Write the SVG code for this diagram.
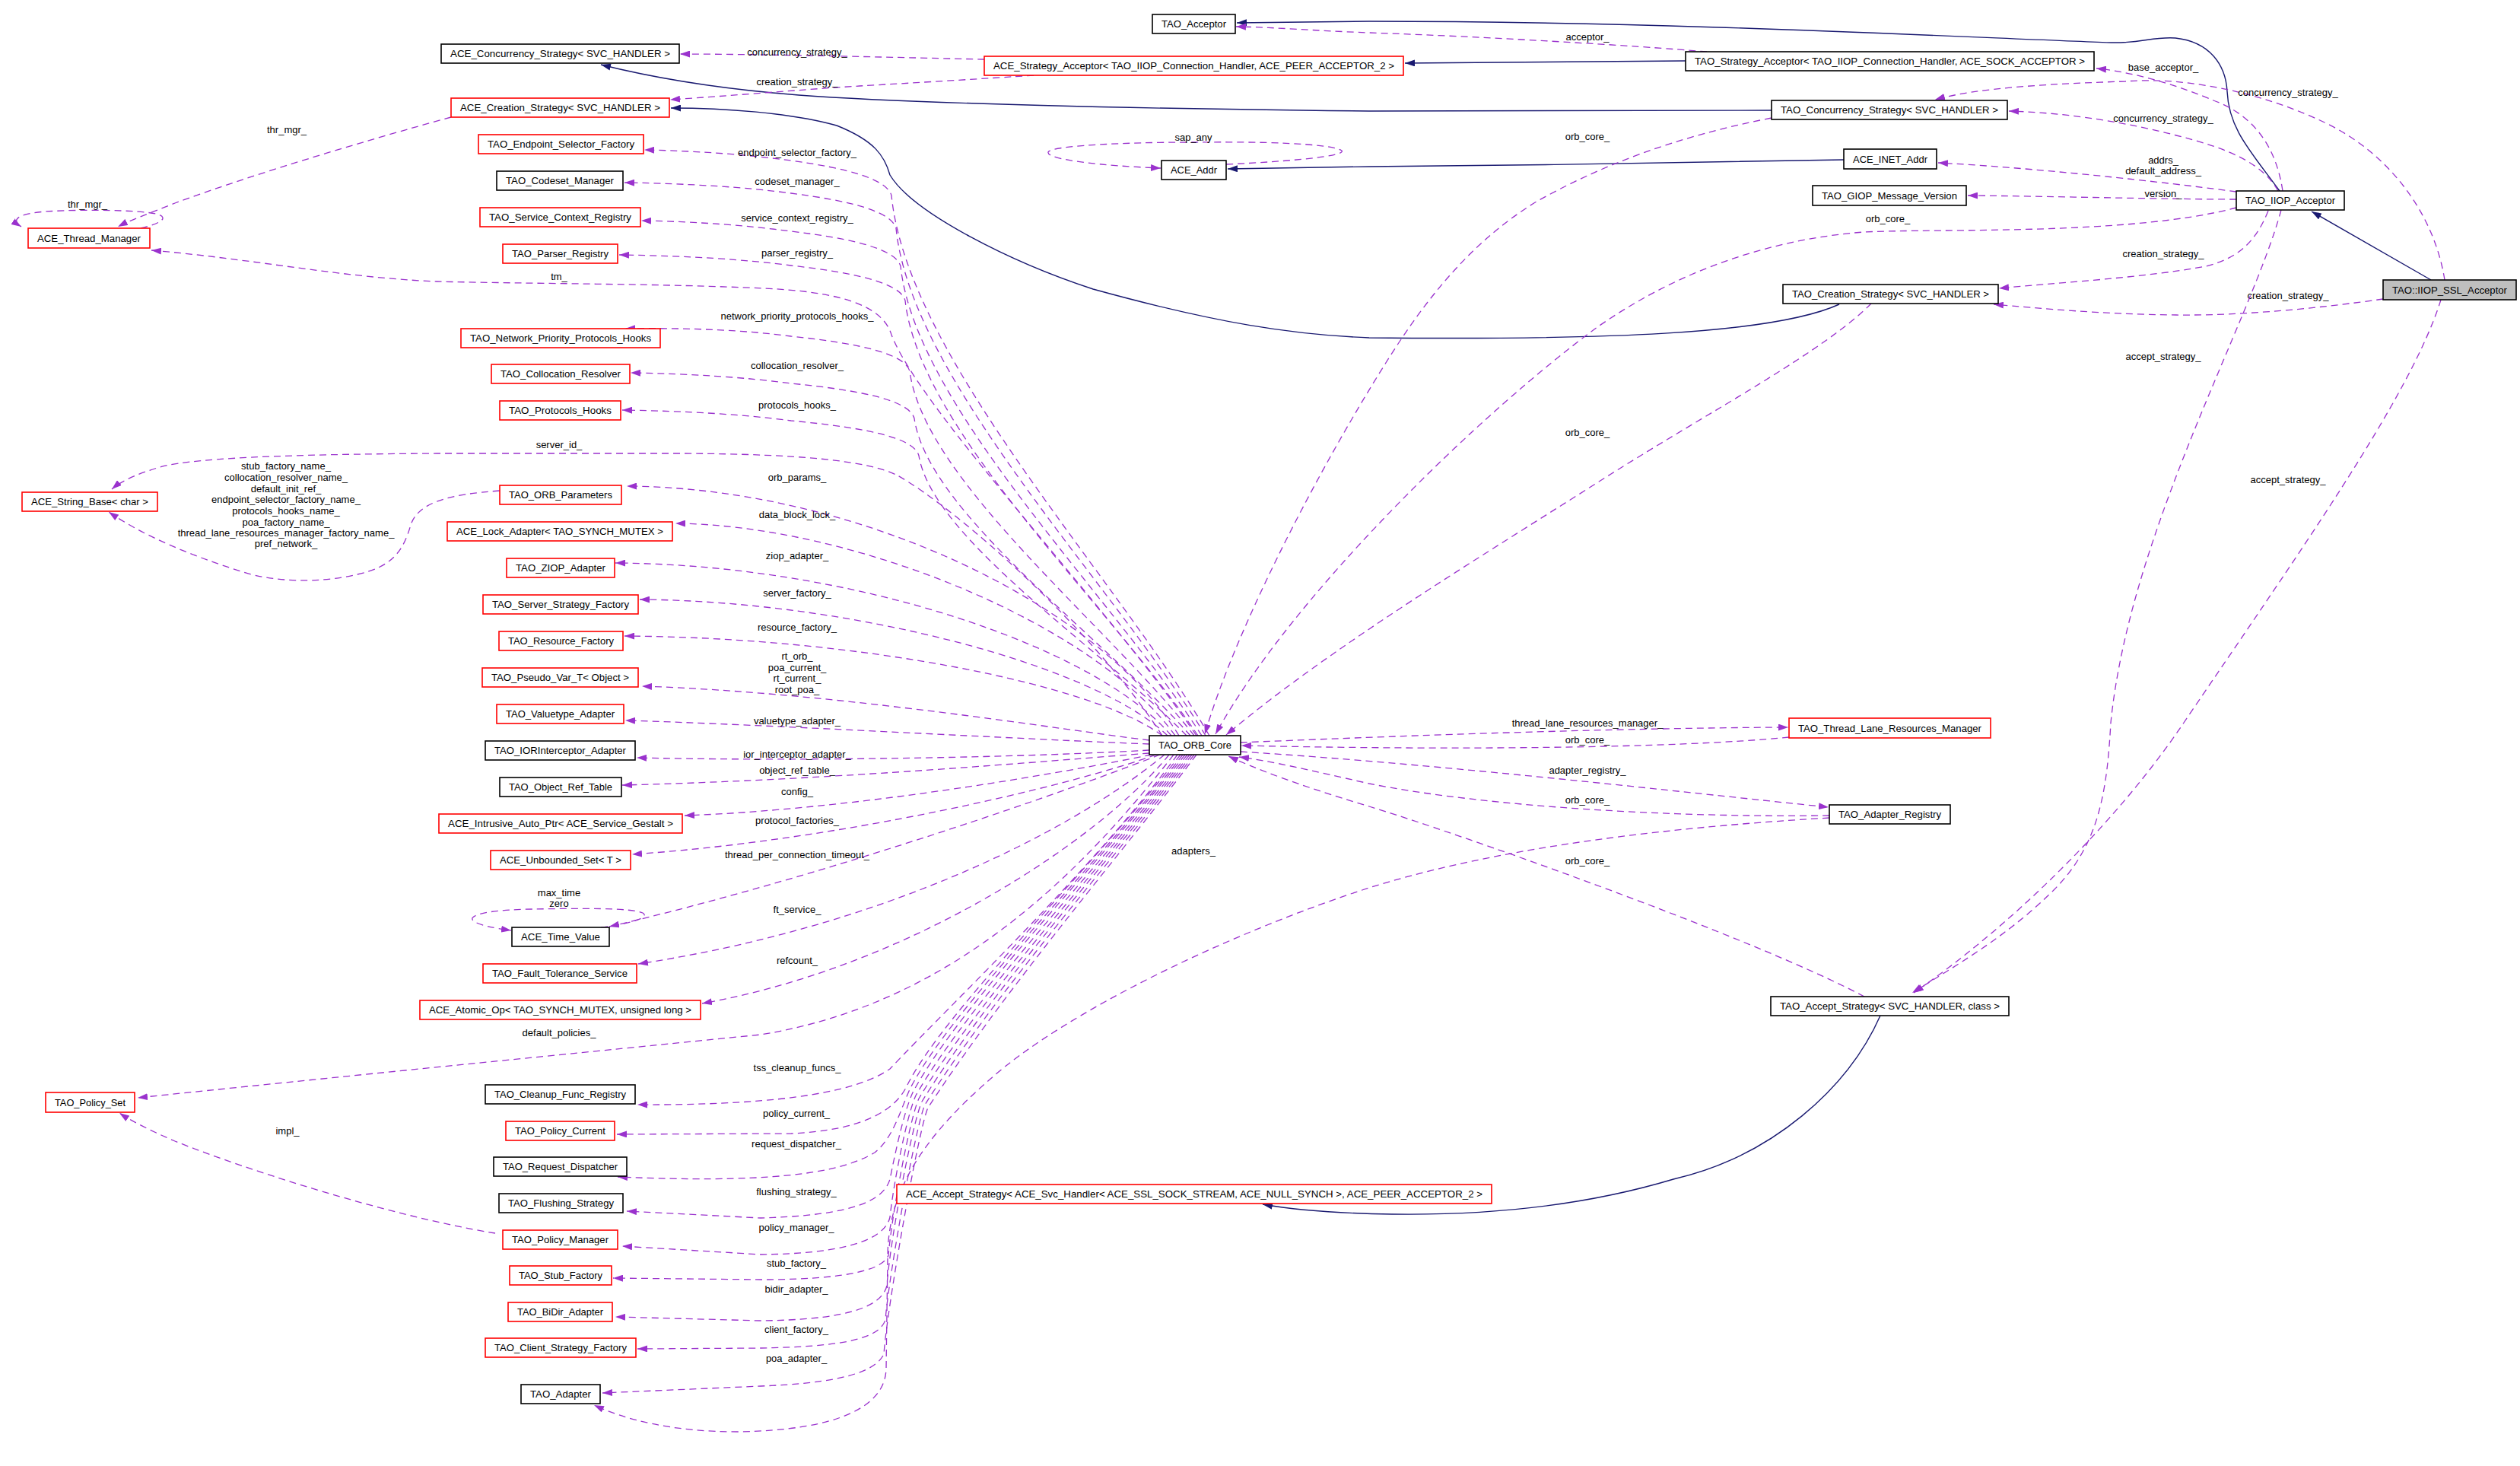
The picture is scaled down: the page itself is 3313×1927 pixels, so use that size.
<svg xmlns="http://www.w3.org/2000/svg" width="3313" height="1927" viewBox="0 0 3313 1927">
<style>
.bx{fill:#ffffff;stroke-width:1.6}
.r{stroke:#ff0000}
.k{stroke:#000000}
.g{fill:#bfbfbf;stroke:#000000;stroke-width:1.6}
.t{font-family:"Liberation Sans",Arial,sans-serif;font-size:13px;fill:#000000;text-anchor:middle}
.l{font-family:"Liberation Sans",Arial,sans-serif;font-size:13px;fill:#000000;text-anchor:middle}
.e{fill:none;stroke:#9a32cd;stroke-width:1.3;stroke-dasharray:9,6;marker-end:url(#ap)}
.i{fill:none;stroke:#191970;stroke-width:1.4;marker-end:url(#ab)}
</style>
<defs>
<marker id="ap" viewBox="0 0 13 9" refX="13" refY="4.5" markerWidth="13" markerHeight="9" markerUnits="userSpaceOnUse" orient="auto"><path d="M0,0L13,4.5L0,9z" fill="#9a32cd" stroke="none"/></marker>
<marker id="ab" viewBox="0 0 13 9" refX="13" refY="4.5" markerWidth="13" markerHeight="9" markerUnits="userSpaceOnUse" orient="auto"><path d="M0,0L13,4.5L0,9z" fill="#191970" stroke="none"/></marker>
</defs>
<rect width="3313" height="1927" fill="#ffffff"/>

<g id="connectors">
<!-- inheritance -->
<path class="i" d="M3196,368 L3039,278"/>
<path class="i" d="M2997,251 C2960,200 2930,170 2928,120 C2926,85 2905,55 2860,50 C2830,48 2815,57 2775,56 C2600,50 2200,28 1800,28 L1626,30"/>
<path class="i" d="M2216,80 L1847,83"/>
<path class="i" d="M2329,145 L1800,146 C1500,143 1200,136 1050,125 C960,118 870,105 790,85"/>
<path class="i" d="M2418,400 C2330,440 2100,447 1800,444 C1700,440 1600,425 1437,380 C1330,345 1200,280 1170,230 C1163,205 1150,185 1100,165 C1040,148 950,142 882,142"/>
<path class="i" d="M2424,210 C2300,212 2000,218 1800,219 L1614,222"/>
<path class="i" d="M2472,1335 C2430,1430 2330,1520 2200,1550 C2100,1580 1980,1598 1830,1596 C1760,1595 1700,1590 1660,1583"/>

<!-- SSL acceptor usage -->
<path class="e" d="M3214,368 C3200,280 3140,200 3054,160 C2980,125 2880,100 2794,107 C2700,110 2600,115 2544,131"/>
<text class="l" x="3008" y="125.5">concurrency_strategy_</text>
<path class="e" d="M3133,393 C3050,405 2950,415 2861,414 C2760,413 2680,405 2621,400"/>
<text class="l" x="3008" y="392.5">creation_strategy_</text>
<path class="e" d="M3209,394 C3170,520 3020,730 2871,950 C2780,1085 2640,1220 2516,1305"/>
<text class="l" x="3008" y="634.5">accept_strategy_</text>

<!-- IIOP acceptor usage -->
<path class="e" d="M3001,251 C2992,190 2960,150 2910,132 C2870,115 2810,95 2756,90"/>
<text class="l" x="2844" y="92.5">base_acceptor_</text>
<path class="e" d="M2995,251 C2975,215 2930,195 2861,178 C2800,162 2720,148 2641,146"/>
<text class="l" x="2844" y="159.5">concurrency_strategy_</text>
<path class="e" d="M2940,252 C2880,244 2700,222 2548,214"/>
<text class="l" x="2844" y="214.5">addrs_</text>
<text class="l" x="2844" y="228.5">default_address_</text>
<path class="e" d="M2940,262 C2850,262 2700,258 2587,257"/>
<text class="l" x="2844" y="258.5">version_</text>
<path class="e" d="M2940,273 C2800,310 2550,300 2450,305 C2320,315 2200,360 2100,430 C1950,540 1700,780 1598,965"/>
<text class="l" x="2482" y="291.5">orb_core_</text>
<path class="e" d="M2982,277 C2965,320 2940,340 2900,350 C2820,365 2700,372 2628,379"/>
<text class="l" x="2844" y="337.5">creation_strategy_</text>
<path class="e" d="M2999,276 C2960,420 2800,700 2775,950 C2770,1040 2760,1110 2700,1170 C2640,1230 2570,1270 2514,1305"/>
<text class="l" x="2844" y="472.5">accept_strategy_</text>

<!-- strategy acceptors -->
<path class="e" d="M2244,68 C2150,60 1950,48 1800,43 C1720,40 1680,36 1625,35"/>
<text class="l" x="2087" y="52.5">acceptor_</text>
<path class="e" d="M1294,78 C1200,76 1000,71 894,71"/>
<text class="l" x="1048" y="72.5">concurrency_strategy_</text>
<path class="e" d="M1359,99 C1300,103 1200,109 1130,113 C1050,118 960,126 881,131"/>
<text class="l" x="1048" y="111.5">creation_strategy_</text>

<!-- TAO strategies orb_core_ -->
<path class="e" d="M2329,155 C2200,180 2100,220 2020,265 C1930,320 1870,400 1820,480 C1720,640 1620,840 1584,965"/>
<text class="l" x="2087" y="183.5">orb_core_</text>
<path class="e" d="M2460,399 C2400,460 2250,540 2118,623 C1950,730 1750,850 1612,966"/>
<text class="l" x="2087" y="572.5">orb_core_</text>

<!-- self loops -->
<path class="e" d="M1612,216 C1700,212 1770,205 1764,198 C1750,188 1650,186 1569,187 C1470,187 1380,192 1378,200 C1376,210 1450,218 1526,221"/>
<text class="l" x="1569" y="184.5">sap_any</text>
<path class="e" d="M185,300 C215,293 222,285 205,281 C180,276 110,275 60,278 C20,281 15,290 28,298"/>
<text class="l" x="115" y="272.5">thr_mgr_</text>
<path class="e" d="M790,1219 C830,1214 855,1206 845,1200 C830,1193 760,1194 700,1195 C640,1196 615,1203 622,1210 C628,1216 650,1220 672,1223"/>
<text class="l" x="735" y="1177.5">max_time</text>
<text class="l" x="735" y="1191.5">zero</text>

<!-- misc left -->
<path class="e" d="M593,154 C480,185 330,230 230,267 C200,279 170,290 155,298"/>
<text class="l" x="377" y="174.5">thr_mgr_</text>
<path class="e" d="M657,645 C590,650 550,660 540,690 C530,725 515,745 470,755 C420,767 360,765 320,752 C250,730 190,705 143,673"/>
<text class="l" x="376" y="616.5">stub_factory_name_</text>
<text class="l" x="376" y="631.5">collocation_resolver_name_</text>
<text class="l" x="376" y="646.5">default_init_ref_</text>
<text class="l" x="376" y="660.5">endpoint_selector_factory_name_</text>
<text class="l" x="376" y="675.5">protocols_hooks_name_</text>
<text class="l" x="376" y="690.5">poa_factory_name_</text>
<text class="l" x="376" y="704.5">thread_lane_resources_manager_factory_name_</text>
<text class="l" x="376" y="718.5">pref_network_</text>
<path class="e" d="M651,1621 C520,1600 330,1540 230,1500 C200,1487 175,1475 157,1463"/>
<text class="l" x="378" y="1490.5">impl_</text>

<!-- ORB core fan: upper -->
<path class="e" d="M1590,967 C1465,754 1193,470 1172,257 C1166,235 1112,221 1040,211 Q950,199 847,197"/>
<text class="l" x="1048" y="204.5">endpoint_selector_factory_</text>
<path class="e" d="M1585,967 C1463,767 1198,500 1178,300 C1172,278 1118,264 1040,254 Q950,242 821,240"/>
<text class="l" x="1048" y="242.5">codeset_manager_</text>
<path class="e" d="M1580,967 C1461,782 1204,535 1184,350 C1178,328 1124,314 1040,304 Q950,292 843,290"/>
<text class="l" x="1048" y="290.5">service_context_registry_</text>
<path class="e" d="M1575,967 C1459,795 1209,567 1190,395 C1184,373 1130,359 1040,349 Q950,337 814,335"/>
<text class="l" x="1048" y="336.5">parser_registry_</text>
<path class="e" d="M1573,967 C1460,800 1210,540 1172,440 C1160,400 1100,383 1003,379 C880,373 700,373 574,370 C450,365 330,340 199,329"/>
<text class="l" x="735" y="367.5">tm_</text>
<path class="e" d="M1570,967 C1458,823 1215,632 1196,488 C1190,466 1136,452 1040,442 Q950,430 822,432"/>
<text class="l" x="1048" y="419.5">network_priority_protocols_hooks_</text>
<path class="e" d="M1565,967 C1456,842 1220,675 1202,550 C1196,528 1142,514 1040,504 Q950,492 829,490"/>
<text class="l" x="1048" y="484.5">collocation_resolver_</text>
<path class="e" d="M1560,967 C1454,857 1226,709 1208,599 C1202,577 1148,563 1040,553 Q950,541 818,539"/>
<text class="l" x="1048" y="536.5">protocols_hooks_</text>
<path class="e" d="M1528,967 C1440,830 1260,670 1180,625 C1140,605 1050,597 900,596 L574,596 C420,597 260,600 210,614 C180,623 160,632 147,643"/>
<text class="l" x="735" y="588.5">server_id_</text>
<path class="e" d="M1550,967 C1440,790 1120,641 824,639"/>
<text class="l" x="1048" y="631.5">orb_params_</text>
<path class="e" d="M1545,967 C1440,820 1120,690 888,688"/>
<text class="l" x="1048" y="680.5">data_block_lock_</text>
<path class="e" d="M1540,967 C1440,850 1120,742 809,740"/>
<text class="l" x="1048" y="734.5">ziop_adapter_</text>
<path class="e" d="M1535,967 C1440,875 1120,790 841,788"/>
<text class="l" x="1048" y="783.5">server_factory_</text>
<path class="e" d="M1528,967 C1440,900 1130,838 821,836"/>
<text class="l" x="1048" y="828.5">resource_factory_</text>
<path class="e" d="M1511,973 C1400,960 1100,910 844,902"/>
<text class="l" x="1048" y="866.5">rt_orb_</text>
<text class="l" x="1048" y="881.5">poa_current_</text>
<text class="l" x="1048" y="895.5">rt_current_</text>
<text class="l" x="1048" y="910.5">root_poa_</text>

<!-- ORB core fan: middle -->
<path class="e" d="M1511,978 C1350,972 1000,952 822,947"/>
<text class="l" x="1048" y="951.5">valuetype_adapter_</text>
<path class="e" d="M1511,986 C1300,998 1000,1000 837,996"/>
<text class="l" x="1048" y="995.5">ior_interceptor_adapter_</text>
<path class="e" d="M1511,990 C1380,1000 1100,1025 818,1032"/>
<text class="l" x="1048" y="1016.5">object_ref_table_</text>
<path class="e" d="M1514,992 C1350,1025 1100,1065 900,1072"/>
<text class="l" x="1048" y="1044.5">config_</text>
<path class="e" d="M1520,992 C1400,1035 1100,1105 831,1123"/>
<text class="l" x="1048" y="1082.5">protocol_factories_</text>
<path class="e" d="M1525,992 C1350,1060 1050,1160 801,1218"/>
<text class="l" x="1048" y="1127.5">thread_per_connection_timeout_</text>
<path class="e" d="M1531,992 C1400,1100 1150,1220 839,1267"/>
<text class="l" x="1048" y="1199.5">ft_service_</text>
<path class="e" d="M1537,992 C1450,1100 1200,1270 923,1319"/>
<text class="l" x="1048" y="1266.5">refcount_</text>
<path class="e" d="M1543,992 C1420,1150 1250,1320 1000,1360 C800,1380 400,1420 181,1443"/>
<text class="l" x="735" y="1361.5">default_policies_</text>

<!-- ORB core fan: lower -->
<path class="e" d="M1548,992 C1440,1140 1250,1320 1170,1405 C1120,1440 1000,1453 838,1452"/>
<text class="l" x="1048" y="1407.5">tss_cleanup_funcs_</text>
<path class="e" d="M1552,992 C1437,1140 1240,1330 1192,1428 C1175,1462 1130,1486 1040,1490 L811,1491"/>
<text class="l" x="1047" y="1467.5">policy_current_</text>
<path class="e" d="M1555,992 C1445,1135 1250,1325 1196,1432 C1184,1458 1175,1495 1150,1515 C1100,1545 1000,1555 812,1547"/>
<text class="l" x="1047" y="1507.5">request_dispatcher_</text>
<path class="e" d="M1558,992 C1450,1130 1262,1320 1200,1436 C1188,1462 1176,1520 1170,1550 C1160,1585 1100,1598 1000,1601 L824,1592"/>
<text class="l" x="1047" y="1570.5">flushing_strategy_</text>
<path class="e" d="M1561,992 C1458,1125 1275,1315 1204,1440 C1192,1466 1174,1560 1170,1600 C1163,1630 1110,1648 1000,1649 L818,1638"/>
<text class="l" x="1047" y="1617.5">policy_manager_</text>
<path class="e" d="M1564,992 C1465,1120 1288,1310 1208,1444 C1196,1470 1172,1600 1168,1650 C1160,1672 1100,1682 1000,1682 L806,1680"/>
<text class="l" x="1047" y="1664.5">stub_factory_</text>
<path class="e" d="M1567,992 C1472,1115 1300,1305 1212,1448 C1200,1474 1170,1630 1166,1690 C1158,1722 1100,1735 1000,1736 L809,1731"/>
<text class="l" x="1047" y="1698.5">bidir_adapter_</text>
<path class="e" d="M1570,992 C1480,1110 1312,1300 1216,1452 C1204,1478 1168,1680 1164,1735 C1155,1762 1100,1770 1000,1772 L838,1773"/>
<text class="l" x="1047" y="1751.5">client_factory_</text>
<path class="e" d="M1573,992 C1488,1105 1325,1295 1220,1456 C1208,1482 1166,1720 1162,1780 C1150,1805 1100,1818 1000,1822 L792,1831"/>
<text class="l" x="1047" y="1789.5">poa_adapter_</text>

<!-- right of ORB core -->
<path class="e" d="M1631,976 C1800,969 2100,957 2351,956"/>
<text class="l" x="2087" y="954.5">thread_lane_resources_manager_</text>
<path class="e" d="M2352,969 C2200,984 1900,986 1632,980"/>
<text class="l" x="2087" y="976.5">orb_core_</text>
<path class="e" d="M1631,988 C1900,1005 2200,1040 2404,1061"/>
<text class="l" x="2087" y="1016.5">adapter_registry_</text>
<path class="e" d="M2405,1072 C2200,1075 1950,1060 1800,1030 C1720,1012 1670,1000 1629,995"/>
<text class="l" x="2087" y="1055.5">orb_core_</text>
<path class="e" d="M2451,1310 C2300,1230 1900,1090 1800,1060 C1700,1030 1650,1010 1615,994"/>
<text class="l" x="2087" y="1135.5">orb_core_</text>
<path class="e" d="M2405,1075 C2150,1090 1950,1120 1800,1167 C1620,1225 1400,1330 1300,1420 C1220,1490 1168,1560 1167,1650 L1165,1800 C1163,1850 1100,1880 970,1882 C880,1882 820,1865 781,1847"/>
<text class="l" x="1569" y="1122.5">adapters_</text>
</g>

<g id="n_ace_concurrency_strategy"><rect class="bx k" x="580" y="58" width="313" height="25"/><text class="t" x="736.5" y="75" textLength="289" lengthAdjust="spacingAndGlyphs">ACE_Concurrency_Strategy&lt; SVC_HANDLER &gt;</text></g>
<g id="n_ace_creation_strategy"><rect class="bx r" x="593" y="129" width="287" height="25"/><text class="t" x="736.5" y="146" textLength="263" lengthAdjust="spacingAndGlyphs">ACE_Creation_Strategy&lt; SVC_HANDLER &gt;</text></g>
<g id="n_endpoint_selector_factory"><rect class="bx r" x="629" y="177" width="217" height="25"/><text class="t" x="737.5" y="194" textLength="193" lengthAdjust="spacingAndGlyphs">TAO_Endpoint_Selector_Factory</text></g>
<g id="n_codeset_manager"><rect class="bx k" x="653" y="225" width="166" height="25"/><text class="t" x="736" y="242" textLength="142" lengthAdjust="spacingAndGlyphs">TAO_Codeset_Manager</text></g>
<g id="n_service_context_registry"><rect class="bx r" x="631" y="273" width="211" height="25"/><text class="t" x="736.5" y="290" textLength="187" lengthAdjust="spacingAndGlyphs">TAO_Service_Context_Registry</text></g>
<g id="n_parser_registry"><rect class="bx r" x="661" y="321" width="151" height="25"/><text class="t" x="736.5" y="338" textLength="127" lengthAdjust="spacingAndGlyphs">TAO_Parser_Registry</text></g>
<g id="n_thread_manager"><rect class="bx r" x="37" y="300" width="160" height="26"/><text class="t" x="117" y="317.5" textLength="136" lengthAdjust="spacingAndGlyphs">ACE_Thread_Manager</text></g>
<g id="n_network_priority_protocols_hooks"><rect class="bx r" x="606" y="432" width="262" height="25"/><text class="t" x="737" y="449" textLength="238" lengthAdjust="spacingAndGlyphs">TAO_Network_Priority_Protocols_Hooks</text></g>
<g id="n_collocation_resolver"><rect class="bx r" x="646" y="479" width="182" height="25"/><text class="t" x="737" y="496" textLength="158" lengthAdjust="spacingAndGlyphs">TAO_Collocation_Resolver</text></g>
<g id="n_protocols_hooks"><rect class="bx r" x="657" y="527" width="159" height="25"/><text class="t" x="736.5" y="544" textLength="135" lengthAdjust="spacingAndGlyphs">TAO_Protocols_Hooks</text></g>
<g id="n_string_base"><rect class="bx r" x="29" y="647" width="178" height="25"/><text class="t" x="118" y="664" textLength="154" lengthAdjust="spacingAndGlyphs">ACE_String_Base&lt; char &gt;</text></g>
<g id="n_orb_parameters"><rect class="bx r" x="657" y="638" width="160" height="25"/><text class="t" x="737" y="655" textLength="136" lengthAdjust="spacingAndGlyphs">TAO_ORB_Parameters</text></g>
<g id="n_lock_adapter"><rect class="bx r" x="588" y="686" width="296" height="25"/><text class="t" x="736" y="703" textLength="272" lengthAdjust="spacingAndGlyphs">ACE_Lock_Adapter&lt; TAO_SYNCH_MUTEX &gt;</text></g>
<g id="n_ziop_adapter"><rect class="bx r" x="666" y="734" width="142" height="25"/><text class="t" x="737" y="751" textLength="118" lengthAdjust="spacingAndGlyphs">TAO_ZIOP_Adapter</text></g>
<g id="n_server_strategy_factory"><rect class="bx r" x="635" y="782" width="204" height="25"/><text class="t" x="737" y="799" textLength="180" lengthAdjust="spacingAndGlyphs">TAO_Server_Strategy_Factory</text></g>
<g id="n_resource_factory"><rect class="bx r" x="656" y="830" width="163" height="25"/><text class="t" x="737.5" y="847" textLength="139" lengthAdjust="spacingAndGlyphs">TAO_Resource_Factory</text></g>
<g id="n_pseudo_var"><rect class="bx r" x="634" y="878" width="205" height="25"/><text class="t" x="736.5" y="895" textLength="181" lengthAdjust="spacingAndGlyphs">TAO_Pseudo_Var_T&lt; Object &gt;</text></g>
<g id="n_valuetype_adapter"><rect class="bx r" x="653" y="926" width="167" height="25"/><text class="t" x="736.5" y="943" textLength="143" lengthAdjust="spacingAndGlyphs">TAO_Valuetype_Adapter</text></g>
<g id="n_iorinterceptor_adapter"><rect class="bx k" x="638" y="974" width="197" height="25"/><text class="t" x="736.5" y="991" textLength="173" lengthAdjust="spacingAndGlyphs">TAO_IORInterceptor_Adapter</text></g>
<g id="n_object_ref_table"><rect class="bx k" x="657" y="1022" width="160" height="25"/><text class="t" x="737" y="1039" textLength="136" lengthAdjust="spacingAndGlyphs">TAO_Object_Ref_Table</text></g>
<g id="n_intrusive_auto_ptr"><rect class="bx r" x="577" y="1070" width="320" height="25"/><text class="t" x="737" y="1087" textLength="296" lengthAdjust="spacingAndGlyphs">ACE_Intrusive_Auto_Ptr&lt; ACE_Service_Gestalt &gt;</text></g>
<g id="n_unbounded_set"><rect class="bx r" x="645" y="1118" width="184" height="25"/><text class="t" x="737" y="1135" textLength="160" lengthAdjust="spacingAndGlyphs">ACE_Unbounded_Set&lt; T &gt;</text></g>
<g id="n_time_value"><rect class="bx k" x="673" y="1219" width="128" height="25"/><text class="t" x="737" y="1236" textLength="104" lengthAdjust="spacingAndGlyphs">ACE_Time_Value</text></g>
<g id="n_fault_tolerance_service"><rect class="bx r" x="635" y="1267" width="202" height="25"/><text class="t" x="736" y="1284" textLength="178" lengthAdjust="spacingAndGlyphs">TAO_Fault_Tolerance_Service</text></g>
<g id="n_atomic_op"><rect class="bx r" x="552" y="1315" width="369" height="25"/><text class="t" x="736.5" y="1332" textLength="345" lengthAdjust="spacingAndGlyphs">ACE_Atomic_Op&lt; TAO_SYNCH_MUTEX, unsigned long &gt;</text></g>
<g id="n_policy_set"><rect class="bx r" x="60" y="1436" width="117" height="26"/><text class="t" x="118.5" y="1453.5" textLength="93" lengthAdjust="spacingAndGlyphs">TAO_Policy_Set</text></g>
<g id="n_cleanup_func_registry"><rect class="bx k" x="638" y="1426" width="197" height="25"/><text class="t" x="736.5" y="1443" textLength="173" lengthAdjust="spacingAndGlyphs">TAO_Cleanup_Func_Registry</text></g>
<g id="n_policy_current"><rect class="bx r" x="665" y="1474" width="143" height="25"/><text class="t" x="736.5" y="1491" textLength="119" lengthAdjust="spacingAndGlyphs">TAO_Policy_Current</text></g>
<g id="n_request_dispatcher"><rect class="bx k" x="649" y="1521" width="175" height="25"/><text class="t" x="736.5" y="1538" textLength="151" lengthAdjust="spacingAndGlyphs">TAO_Request_Dispatcher</text></g>
<g id="n_flushing_strategy"><rect class="bx k" x="656" y="1569" width="163" height="25"/><text class="t" x="737.5" y="1586" textLength="139" lengthAdjust="spacingAndGlyphs">TAO_Flushing_Strategy</text></g>
<g id="n_policy_manager"><rect class="bx r" x="661" y="1617" width="151" height="25"/><text class="t" x="736.5" y="1634" textLength="127" lengthAdjust="spacingAndGlyphs">TAO_Policy_Manager</text></g>
<g id="n_stub_factory"><rect class="bx r" x="670" y="1664" width="134" height="25"/><text class="t" x="737" y="1681" textLength="110" lengthAdjust="spacingAndGlyphs">TAO_Stub_Factory</text></g>
<g id="n_bidir_adapter"><rect class="bx r" x="668" y="1712" width="137" height="25"/><text class="t" x="736.5" y="1729" textLength="113" lengthAdjust="spacingAndGlyphs">TAO_BiDir_Adapter</text></g>
<g id="n_client_strategy_factory"><rect class="bx r" x="638" y="1759" width="198" height="25"/><text class="t" x="737" y="1776" textLength="174" lengthAdjust="spacingAndGlyphs">TAO_Client_Strategy_Factory</text></g>
<g id="n_adapter"><rect class="bx k" x="685" y="1820" width="104" height="25"/><text class="t" x="737" y="1837" textLength="80" lengthAdjust="spacingAndGlyphs">TAO_Adapter</text></g>

<g id="n_tao_acceptor"><rect class="bx k" x="1515" y="19" width="109" height="25"/><text class="t" x="1569.5" y="36" textLength="85" lengthAdjust="spacingAndGlyphs">TAO_Acceptor</text></g>
<g id="n_ace_strategy_acceptor"><rect class="bx r" x="1294" y="74" width="551" height="25"/><text class="t" x="1569.5" y="91" textLength="527" lengthAdjust="spacingAndGlyphs">ACE_Strategy_Acceptor&lt; TAO_IIOP_Connection_Handler, ACE_PEER_ACCEPTOR_2 &gt;</text></g>
<g id="n_ace_addr"><rect class="bx k" x="1527" y="211" width="85" height="25"/><text class="t" x="1569.5" y="228" textLength="61" lengthAdjust="spacingAndGlyphs">ACE_Addr</text></g>
<g id="n_tao_strategy_acceptor"><rect class="bx k" x="2216" y="68" width="537" height="25"/><text class="t" x="2484.5" y="85" textLength="513" lengthAdjust="spacingAndGlyphs">TAO_Strategy_Acceptor&lt; TAO_IIOP_Connection_Handler, ACE_SOCK_ACCEPTOR &gt;</text></g>
<g id="n_tao_concurrency_strategy"><rect class="bx k" x="2329" y="132" width="310" height="25"/><text class="t" x="2484" y="149" textLength="286" lengthAdjust="spacingAndGlyphs">TAO_Concurrency_Strategy&lt; SVC_HANDLER &gt;</text></g>
<g id="n_inet_addr"><rect class="bx k" x="2424" y="196" width="122" height="26"/><text class="t" x="2485" y="213.5" textLength="98" lengthAdjust="spacingAndGlyphs">ACE_INET_Addr</text></g>
<g id="n_giop_message_version"><rect class="bx k" x="2383" y="244" width="202" height="26"/><text class="t" x="2484" y="261.5" textLength="178" lengthAdjust="spacingAndGlyphs">TAO_GIOP_Message_Version</text></g>
<g id="n_iiop_acceptor"><rect class="bx k" x="2940" y="251" width="142" height="25"/><text class="t" x="3011" y="268" textLength="118" lengthAdjust="spacingAndGlyphs">TAO_IIOP_Acceptor</text></g>
<g id="n_iiop_ssl_acceptor"><rect class="g" x="3133" y="368" width="175" height="26"/><text class="t" x="3220.5" y="385.5" textLength="151" lengthAdjust="spacingAndGlyphs">TAO::IIOP_SSL_Acceptor</text></g>
<g id="n_tao_creation_strategy"><rect class="bx k" x="2344" y="374" width="283" height="25"/><text class="t" x="2485.5" y="391" textLength="259" lengthAdjust="spacingAndGlyphs">TAO_Creation_Strategy&lt; SVC_HANDLER &gt;</text></g>
<g id="n_orb_core"><rect class="bx k" x="1511" y="967" width="120" height="25"/><text class="t" x="1571" y="984" textLength="96" lengthAdjust="spacingAndGlyphs">TAO_ORB_Core</text></g>
<g id="n_thread_lane_resources_manager"><rect class="bx r" x="2352" y="944" width="265" height="26"/><text class="t" x="2484.5" y="961.5" textLength="241" lengthAdjust="spacingAndGlyphs">TAO_Thread_Lane_Resources_Manager</text></g>
<g id="n_adapter_registry"><rect class="bx k" x="2405" y="1058" width="159" height="25"/><text class="t" x="2484.5" y="1075" textLength="135" lengthAdjust="spacingAndGlyphs">TAO_Adapter_Registry</text></g>
<g id="n_tao_accept_strategy"><rect class="bx k" x="2328" y="1310" width="313" height="25"/><text class="t" x="2484.5" y="1327" textLength="289" lengthAdjust="spacingAndGlyphs">TAO_Accept_Strategy&lt; SVC_HANDLER, class &gt;</text></g>
<g id="n_ace_accept_strategy"><rect class="bx r" x="1179" y="1557" width="782" height="25"/><text class="t" x="1570" y="1574" textLength="758" lengthAdjust="spacingAndGlyphs">ACE_Accept_Strategy&lt; ACE_Svc_Handler&lt; ACE_SSL_SOCK_STREAM, ACE_NULL_SYNCH &gt;, ACE_PEER_ACCEPTOR_2 &gt;</text></g>
</svg>
